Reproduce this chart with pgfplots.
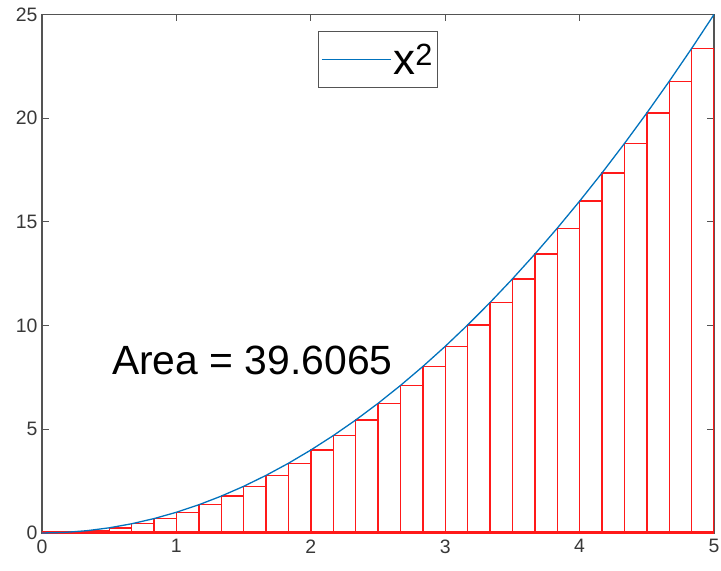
\documentclass[border=0pt]{standalone}
\usepackage{pgfplots}
\pgfplotsset{compat=1.18}
\usepackage{fontspec}
\setmainfont{Liberation Sans}
\definecolor{mblue}{rgb}{0,0.447,0.741}
\definecolor{axgray}{rgb}{0.33,0.33,0.33}
\definecolor{tickgray}{rgb}{0.22,0.22,0.22}
\definecolor{mred}{rgb}{1,0.1,0.1}
\begin{document}
\begin{tikzpicture}
\begin{axis}[
  scale only axis, width=672bp, height=518.5bp,
  xmin=0, xmax=5, ymin=0, ymax=25,
  xtick={0,1,2,3,4,5}, ytick={0,5,10,15,20,25},
  tick align=inside, major tick length=7bp,
  axis line style={color=axgray, line width=1.1bp},
  every tick/.style={color=axgray, line width=1.1bp},
  /pgf/number format/assume math mode=true,
  every tick label/.append style={font=\fontsize{19.5}{22}\selectfont, text=tickgray},
  xticklabel style={yshift=-3bp},
  yticklabel style={xshift=-1bp},
  legend style={at={(0.5,0.968)}, anchor=north, font=\fontsize{44}{46}\selectfont,
    draw=axgray, fill=white, text=black, line width=1.1bp, inner xsep=3bp, inner ysep=10bp},
  legend image code/.code={\draw[#1] (0bp,0bp) -- (62bp,0bp); \path (0bp,0bp) -- (69bp,0bp);},
]
% tops of the rectangles (left Riemann sum, 30 strips)
\addplot[const plot mark left, color=mred, line width=1.4bp, forget plot] coordinates {
(0,0) (0.166667,0.027778) (0.333333,0.111111) (0.5,0.25) (0.666667,0.444444)
(0.833333,0.694444) (1,1) (1.166667,1.361111) (1.333333,1.777778) (1.5,2.25)
(1.666667,2.777778) (1.833333,3.361111) (2,4) (2.166667,4.694444) (2.333333,5.444444)
(2.5,6.25) (2.666667,7.111111) (2.833333,8.027778) (3,9) (3.166667,10.027778)
(3.333333,11.111111) (3.5,12.25) (3.666667,13.444444) (3.833333,14.694444) (4,16)
(4.166667,17.361111) (4.333333,18.777778) (4.5,20.25) (4.666667,21.777778)
(4.833333,23.361111) (5,23.361111)};
% vertical edges of the rectangles
\addplot[ycomb, color=mred, line width=1.4bp, forget plot] coordinates {
(0.166667,0.027778) (0.333333,0.111111) (0.5,0.25) (0.666667,0.444444)
(0.833333,0.694444) (1,1) (1.166667,1.361111) (1.333333,1.777778) (1.5,2.25)
(1.666667,2.777778) (1.833333,3.361111) (2,4) (2.166667,4.694444) (2.333333,5.444444)
(2.5,6.25) (2.666667,7.111111) (2.833333,8.027778) (3,9) (3.166667,10.027778)
(3.333333,11.111111) (3.5,12.25) (3.666667,13.444444) (3.833333,14.694444) (4,16)
(4.166667,17.361111) (4.333333,18.777778) (4.5,20.25) (4.666667,21.777778)
(4.833333,23.361111) (5,23.361111)};
% bottom edges of the rectangles
\addplot[color=mred, line width=3.2bp, forget plot] coordinates {(0,0) (5,0)};
\addplot[color=mblue, line width=1.3bp] coordinates {
(0,0) (0.166667,0.027778) (0.333333,0.111111) (0.5,0.25) (0.666667,0.444444)
(0.833333,0.694444) (1,1) (1.166667,1.361111) (1.333333,1.777778) (1.5,2.25)
(1.666667,2.777778) (1.833333,3.361111) (2,4) (2.166667,4.694444) (2.333333,5.444444)
(2.5,6.25) (2.666667,7.111111) (2.833333,8.027778) (3,9) (3.166667,10.027778)
(3.333333,11.111111) (3.5,12.25) (3.666667,13.444444) (3.833333,14.694444) (4,16)
(4.166667,17.361111) (4.333333,18.777778) (4.5,20.25) (4.666667,21.777778)
(4.833333,23.361111) (5,25)};
\addlegendentry{x\textsuperscript{2}}
\node[anchor=base west, inner sep=0pt, text=black, font=\fontsize{41}{44}\selectfont] at (axis cs:0.52,7.62) {Area = 39.6065};
\coordinate (SW) at (rel axis cs:0,0);
\coordinate (NE) at (rel axis cs:1,1);
\end{axis}
\pgfresetboundingbox
\path[use as bounding box] ([shift={(-42bp,-37bp)}]SW) rectangle ([shift={(7bp,14.5bp)}]NE);
\end{tikzpicture}
\end{document}
